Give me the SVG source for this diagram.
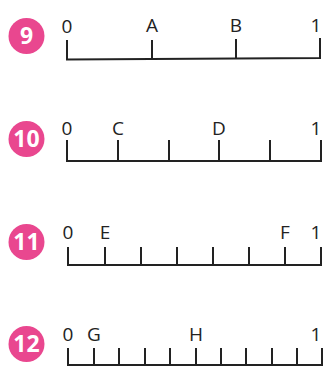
<svg xmlns="http://www.w3.org/2000/svg" width="323" height="367" viewBox="0 0 323 367">
<style>
.bg{fill:#ffffff}
.badge{fill:#e9478f}
.num{font-family:"Open Sans","Liberation Sans",sans-serif;font-weight:bold;font-size:23px;fill:#ffffff;text-anchor:middle}
.lbl{font-family:"Open Sans","Liberation Sans",sans-serif;font-size:19px;fill:#222222;text-anchor:middle}
.ax{fill:none;stroke:#222222;stroke-width:2;stroke-linejoin:miter}
.tk{stroke:#222222;stroke-width:2}
</style>
<rect class="bg" x="0" y="0" width="323" height="367"/>
<g id="q9">
<circle class="badge" cx="26.5" cy="36" r="18"/>
<text class="num" x="26.5" y="44">9</text>
<text class="lbl" x="67" y="33">0</text>
<text class="lbl" x="152" y="32">A</text>
<text class="lbl" x="236" y="32">B</text>
<text class="lbl" x="316" y="32">1</text>
</g>
<g id="q10">
<circle class="badge" cx="26.5" cy="139" r="18"/>
<text class="num" x="26.5" y="147">10</text>
<text class="lbl" x="67" y="135">0</text>
<text class="lbl" x="118" y="135">C</text>
<text class="lbl" x="219" y="135">D</text>
<text class="lbl" x="316" y="135">1</text>
</g>
<g id="q11">
<circle class="badge" cx="26.5" cy="242" r="18"/>
<text class="num" x="26.5" y="250">11</text>
<text class="lbl" x="68" y="239">0</text>
<text class="lbl" x="105" y="239">E</text>
<text class="lbl" x="285" y="239">F</text>
<text class="lbl" x="316" y="239">1</text>
</g>
<g id="q12">
<circle class="badge" cx="26.5" cy="344" r="18"/>
<text class="num" x="26.5" y="352">12</text>
<text class="lbl" x="68" y="341">0</text>
<text class="lbl" x="94" y="341">G</text>
<text class="lbl" x="196" y="341">H</text>
<text class="lbl" x="316" y="341">1</text>
</g>
<g id="connectors">
<polyline class="ax" points="67,40 67,59.5 320,58 320,38"/>
<line class="tk" x1="152" y1="40" x2="152" y2="59"/>
<line class="tk" x1="236" y1="39" x2="236" y2="58.5"/>

<polyline class="ax" points="67,140 67,161 321,161 321,140"/>
<line class="tk" x1="118" y1="140" x2="118" y2="161"/>
<line class="tk" x1="169" y1="140" x2="169" y2="161"/>
<line class="tk" x1="219" y1="140" x2="219" y2="161"/>
<line class="tk" x1="270" y1="140" x2="270" y2="161"/>

<polyline class="ax" points="68,247 68,265 321,265 321,247"/>
<line class="tk" x1="105" y1="247" x2="105" y2="265"/>
<line class="tk" x1="141" y1="247" x2="141" y2="265"/>
<line class="tk" x1="177" y1="247" x2="177" y2="265"/>
<line class="tk" x1="213" y1="247" x2="213" y2="265"/>
<line class="tk" x1="249" y1="247" x2="249" y2="265"/>
<line class="tk" x1="285" y1="247" x2="285" y2="265"/>

<polyline class="ax" points="68,348 68,365 322,365 322,348"/>
<line class="tk" x1="94" y1="348" x2="94" y2="365"/>
<line class="tk" x1="119" y1="348" x2="119" y2="365"/>
<line class="tk" x1="145" y1="348" x2="145" y2="365"/>
<line class="tk" x1="170" y1="348" x2="170" y2="365"/>
<line class="tk" x1="196" y1="348" x2="196" y2="365"/>
<line class="tk" x1="221" y1="348" x2="221" y2="365"/>
<line class="tk" x1="246" y1="348" x2="246" y2="365"/>
<line class="tk" x1="272" y1="348" x2="272" y2="365"/>
<line class="tk" x1="297" y1="348" x2="297" y2="365"/>
</g>
</svg>
